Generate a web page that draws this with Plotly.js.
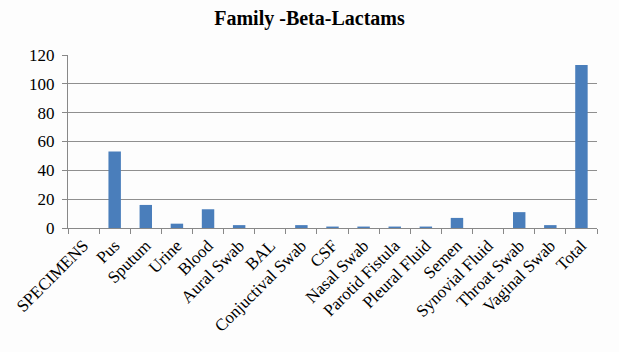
<!DOCTYPE html>
<html>
<head>
<meta charset="utf-8">
<script src="https://cdn.plot.ly/plotly-3.0.1.min.js"></script>
<style>html,body{margin:0;padding:0;background:#fdfdfd;}#chart{width:619px;height:352px;}</style>
</head>
<body>
<div id="chart"></div>
<script>
const categories = ["SPECIMENS","Pus","Sputum","Urine","Blood","Aural Swab","BAL","Conjuctival Swab","CSF","Nasal Swab","Parotid Fistula","Pleural Fluid","Semen","Synovial Fluid","Throat Swab","Vaginal Swab","Total"];
const values = [0,53,16,3,13,2,0,2,1,1,1,1,7,0,11,2,113];
const yTicks = [0,20,40,60,80,100,120];

const font = "'Liberation Serif', 'DejaVu Serif', serif";
Plotly.newPlot('chart', [{
  type: 'bar',
  x: categories,
  y: values,
  marker: {color: '#4a7ebb'},
  hoverinfo: 'skip'
}], {
  width: 619, height: 352,
  paper_bgcolor: '#fdfdfd', plot_bgcolor: '#fdfdfd',
  margin: {l: 68, r: 22, t: 55, b: 124},
  bargap: 0.6,
  showlegend: false,
  title: {text: '<b>Family -Beta-Lactams</b>', x: 0.5, xanchor: 'center', y: 0.948, yanchor: 'middle', font: {family: font, size: 20, color: '#000'}},
  xaxis: {
    type: 'category',
    tickangle: -45,
    tickson: 'boundaries',
    ticks: 'outside', ticklen: 5, tickcolor: '#888',
    showline: true, linecolor: '#888', linewidth: 1,
    showgrid: false,
    tickfont: {family: font, size: 17, color: '#000'}
  },
  yaxis: {
    range: [0, 120],
    tickvals: yTicks,
    ticktext: yTicks.map(String),
    ticks: 'outside', ticklen: 5, tickcolor: '#888',
    ticklabelstandoff: 4,
    showline: true, linecolor: '#888', linewidth: 1,
    showgrid: true, gridcolor: '#8f8f8f', gridwidth: 1,
    zeroline: false,
    tickfont: {family: font, size: 17, color: '#000'}
  }
}, {staticPlot: true});
</script>
</body>
</html>
